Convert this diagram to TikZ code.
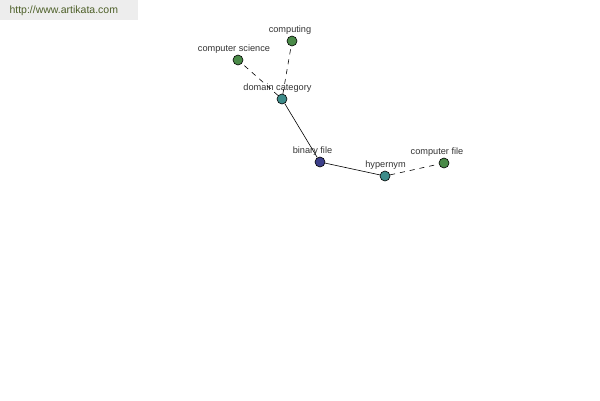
\documentclass[tikz,border=0pt]{standalone}
\usepackage{fontspec}
\setmainfont{Liberation Sans}
\usetikzlibrary{positioning}
\definecolor{leafgreen}{HTML}{4A8A48}
\definecolor{midteal}{HTML}{3E8C8A}
\definecolor{rootblue}{HTML}{3C3F8A}
\definecolor{urlgreen}{HTML}{4D5F28}
\tikzset{
  word/.style 2 args={circle, draw=black, line width=0.6pt, minimum size=10pt, inner sep=0pt,
    label={[font=\fontsize{9.2}{10}\selectfont, text=black!80, inner sep=1pt, xshift=#2]above:#1}},
  leaf/.style 2 args={word={#1}{#2}, fill=leafgreen},
  rel/.style 2 args={word={#1}{#2}, fill=midteal},
  link/.style={line width=0.6pt},
  weak/.style={link, dash pattern=on 5pt off 5pt}
}

\begin{document}
\begin{tikzpicture}[x=1pt, y=-1pt]
    \useasboundingbox (0,0) rectangle (600,400);
    \fill[black!7] (0,0) rectangle (138,20);
    \node[anchor=west, text=urlgreen, font=\fontsize{10.5}{12}\selectfont] (url) at (6,11) {http://www.artikata.com};

    % nodes
    \node[word={binary file}{-7.5pt}, fill=rootblue] (binary) at (320,162) {};
    \node[rel={domain category}{-4.5pt}] (domain) at (282,99) {};
    \node[rel={hypernym}{0.5pt}] (hyper) at (385,176) {};
    \node[leaf={computing}{-2pt}] (computing) at (292,41) {};
    \node[leaf={computer science}{-4pt}] (science) at (238,60) {};
    \node[leaf={computer file}{-7pt}] (file) at (444,163) {};

    % edges
    \draw[link] (binary) -- (domain);
    \draw[link] (binary) -- (hyper);
    \draw[weak] (domain) -- (computing);
    \draw[weak] (domain) -- (science);
    \draw[weak] (hyper) -- (file);
\end{tikzpicture}
\end{document}
